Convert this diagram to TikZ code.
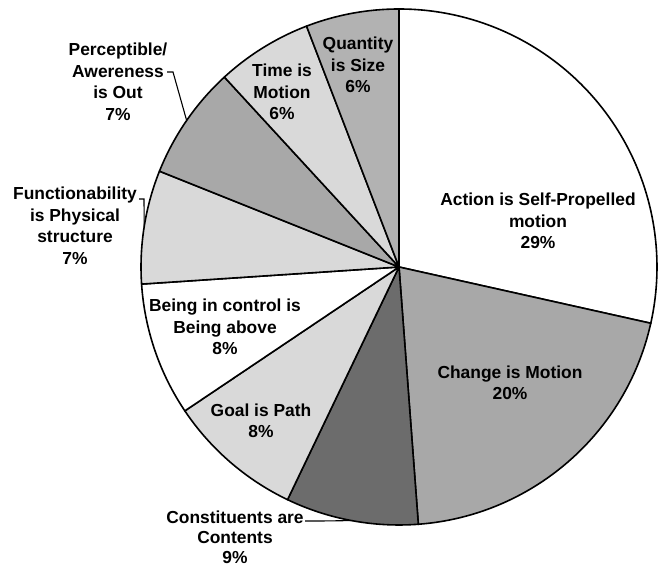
\documentclass[tikz,border=0pt]{standalone}
\usepackage{fontspec}
\setmainfont{Liberation Sans}
\usetikzlibrary{calc}
\definecolor{sliceLight}{RGB}{217,217,217}
\definecolor{sliceMid}{RGB}{168,168,168}
\definecolor{sliceQty}{RGB}{178,178,178}
\definecolor{sliceDark}{RGB}{108,108,108}
\begin{document}
\begin{tikzpicture}[
        x=1pt, y=1pt,
        slice/.style={draw=black, line width=1.6pt, line join=round},
        lbl/.style={align=center, inner sep=0pt, text=black,
            font=\bfseries\fontsize{17.4}{21.5}\selectfont},
        leader/.style={draw=black, line width=1.1pt}
    ]
        \useasboundingbox (0,0) rectangle (661,567);
        \coordinate (O) at (399,300);

        % Slices, clockwise from the top
        \foreach \a/\b/\c in {90/-12.6/white, -12.6/-85.7/sliceMid,
            -85.7/-115.6/sliceDark, -115.6/-146.1/sliceLight,
            -146.1/-176.2/white, -176.2/-201.8/sliceLight,
            -201.8/-227.4/sliceMid, -227.4/-249/sliceLight,
            -249/-270/sliceQty}
            \filldraw[slice, fill=\c] (O) -- ++(\a:258) arc[start angle=\a, end angle=\b, radius=258] -- cycle;

        % Labels
        \node[lbl] (action) at (538,346) {Action is Self-Propelled\\motion\\29\%};
        \node[lbl] (change) at (510,184) {Change is Motion\\20\%};
        \node[lbl, font=\bfseries\fontsize{17.4}{20}\selectfont] (constit) at (235,30) {Constituents are\\Contents\\9\%};
        \node[lbl] (goal) at (261,146) {Goal is Path\\8\%};
        \node[lbl] (control) at (225,240) {Being in control is\\Being above\\8\%};
        \node[lbl] (funct) at (75,341) {Functionability\\is Physical\\structure\\7\%};
        \node[lbl] (percept) at (118,485) {Perceptible/\\Awereness\\is Out\\7\%};
        \node[lbl] (time) at (282,475) {Time is\\Motion\\6\%};
        \node[lbl] (qty) at (358,502) {Quantity\\is Size\\6\%};

        % Leader lines
        \coordinate (perceptTail) at (167,495);
        \coordinate (perceptArc) at ($(O)+(145.4:258)$);
        \coordinate (functTail) at (139,368);
        \coordinate (functArc) at ($(O)+(171:258)$);
        \coordinate (constitTail) at (305,46);
        \coordinate (constitArc) at ($(O)+(-100.6:258)$);
        \draw[leader] (perceptTail) -- ++(6,0) -- (perceptArc);
        \draw[leader] (functTail) -- ++(5,0) -- (functArc);
        \draw[leader] (constitTail) -- ++(16,0) -- (constitArc);
    \end{tikzpicture}
\end{document}
